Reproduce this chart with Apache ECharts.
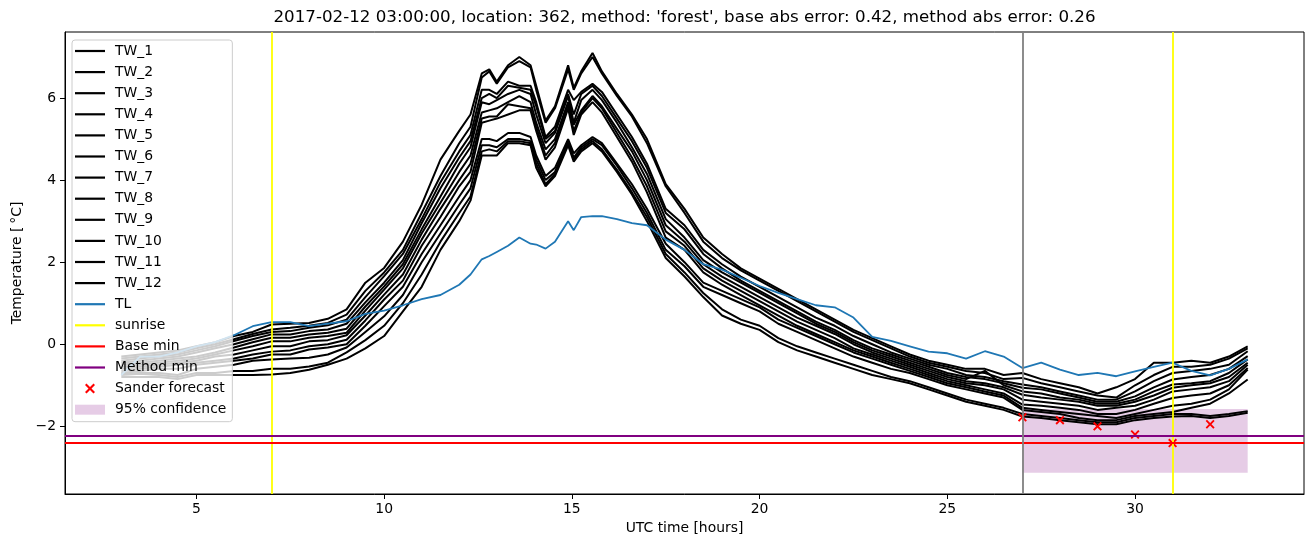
<!DOCTYPE html>
<html>
<head>
<meta charset="utf-8">
<script src="https://cdn.jsdelivr.net/npm/echarts@6/dist/echarts.min.js"></script>
<style>
html,body{margin:0;padding:0;background:#fff;}
#chart{width:1313px;height:547px;}
</style>
</head>
<body>
<div id="chart"></div>
<script>
// ---------------- data ----------------
const hours = [3,3.5,4,4.5,5,5.5,6,6.5,7,7.5,8,8.5,9,9.5,10,10.5,11,11.5,12,12.3,12.6,12.8,13.0,13.3,13.6,13.9,14.05,14.3,14.55,14.9,15.05,15.25,15.55,15.8,16.2,16.6,17.0,17.5,18,18.5,19,19.5,20,20.5,21,21.5,22,22.5,23,23.5,24,24.5,25,25.5,26,26.5,27,27.5,28,28.5,29,29.5,30,30.5,31,31.5,32,32.5,33];

const TW_1 = [-0.30,-0.25,-0.20,-0.15,-0.05,0.05,0.20,0.30,0.48,0.50,0.52,0.62,0.85, 1.50,1.86,2.50,3.40,4.50,5.20, 5.60,6.60,6.70,6.40,6.80,7.00,6.80,6.30,5.45,5.80,6.80,6.25,6.65,7.10,6.65,6.10,5.60,5.00, 3.90,3.30,2.60,2.20,1.85,1.60,1.35,1.10,0.85,0.60,0.35,0.15,-0.05,-0.25,-0.40,-0.50,-0.60,-0.60,-0.75,-0.70,-0.85,-0.95,-1.05,-1.20,-1.05,-0.85,-0.45,-0.45,-0.40,-0.45,-0.30,-0.05];
const TW_2 = [-0.35,-0.30,-0.25,-0.20,-0.10,0.00,0.12,0.25,0.36,0.40,0.45,0.52,0.72, 1.30,1.75,2.30,3.20,4.10,4.90, 5.30,6.50,6.65,6.35,6.75,6.90,6.75,6.20,5.40,5.75,6.70,6.20,6.60,7.00,6.60,6.05,5.55,4.90, 3.85,3.20,2.50,2.10,1.80,1.55,1.30,1.05,0.80,0.55,0.30,0.10,-0.10,-0.30,-0.45,-0.55,-0.65,-0.70,-0.85,-0.82,-0.95,-1.05,-1.15,-1.25,-1.30,-1.00,-0.75,-0.55,-0.55,-0.50,-0.35,-0.10];
const TW_3 = [-0.40,-0.35,-0.30,-0.25,-0.15,-0.05,0.08,0.20,0.30,0.32,0.40,0.46,0.60, 1.15,1.66,2.20,3.05,3.95,4.70, 5.10,6.20,6.20,6.10,6.40,6.30,6.30,5.90,5.05,5.30,6.20,5.95,6.15,6.35,6.15,5.60,5.05,4.40, 3.30,2.90,2.30,1.95,1.65,1.40,1.15,0.90,0.65,0.45,0.20,0.00,-0.20,-0.35,-0.50,-0.60,-0.75,-0.80,-0.90,-0.98,-1.05,-1.15,-1.25,-1.35,-1.35,-1.15,-0.90,-0.70,-0.65,-0.60,-0.50,-0.17];
const TW_4 = [-0.45,-0.40,-0.35,-0.30,-0.20,-0.10,0.00,0.12,0.24,0.24,0.32,0.36,0.50, 1.02,1.50,2.05,2.95,3.80,4.55, 4.95,6.00,6.10,6.00,6.30,6.25,6.20,5.80,5.00,5.20,6.10,5.60,6.10,6.30,6.05,5.50,4.95,4.30, 3.20,2.80,2.20,1.85,1.55,1.30,1.05,0.80,0.55,0.35,0.10,-0.10,-0.25,-0.40,-0.55,-0.70,-0.80,-0.85,-0.95,-1.06,-1.10,-1.20,-1.30,-1.40,-1.40,-1.27,-1.05,-0.86,-0.80,-0.75,-0.60,-0.29];
const TW_5 = [-0.50,-0.45,-0.40,-0.35,-0.30,-0.20,-0.08,0.05,0.16,0.16,0.24,0.28,0.38, 0.92,1.41,1.95,2.80,3.60,4.40, 4.80,5.90,5.85,5.95,6.10,6.20,6.10,5.60,4.90,5.15,6.05,5.40,5.95,6.20,5.95,5.40,4.80,4.15, 3.05,2.60,2.05,1.75,1.50,1.25,1.00,0.75,0.50,0.30,0.05,-0.15,-0.30,-0.45,-0.60,-0.75,-0.85,-0.65,-1.00,-1.15,-1.20,-1.30,-1.35,-1.45,-1.45,-1.35,-1.15,-0.98,-0.95,-0.90,-0.70,-0.37];
const TW_6 = [-0.55,-0.50,-0.45,-0.40,-0.35,-0.25,-0.15,-0.05,0.07,0.07,0.16,0.20,0.28, 0.82,1.33,1.85,2.70,3.45,4.20, 4.60,5.65,5.70,5.75,5.90,6.05,5.90,5.40,4.75,5.00,5.90,5.35,5.70,6.05,5.80,5.25,4.70,4.00, 2.90,2.50,1.95,1.65,1.40,1.15,0.90,0.65,0.45,0.25,0.00,-0.20,-0.35,-0.50,-0.65,-0.80,-0.90,-0.95,-1.05,-1.23,-1.30,-1.35,-1.40,-1.50,-1.50,-1.40,-1.25,-1.06,-1.00,-0.95,-0.80,-0.45];
const TW_7 = [-0.60,-0.55,-0.50,-0.45,-0.40,-0.30,-0.25,-0.15,-0.05,-0.05,0.07,0.10,0.22, 0.70,1.21,1.70,2.55,3.30,4.00, 4.40,5.50,5.55,5.55,5.85,5.80,5.75,5.30,4.60,4.90,5.85,5.20,5.65,6.00,5.75,5.15,4.55,3.85, 2.75,2.40,1.85,1.55,1.30,1.05,0.80,0.55,0.35,0.15,-0.10,-0.25,-0.40,-0.55,-0.70,-0.85,-0.95,-1.00,-1.10,-1.35,-1.40,-1.45,-1.50,-1.60,-1.55,-1.50,-1.35,-1.15,-1.10,-1.05,-0.90,-0.50];
const TW_8 = [-0.65,-0.60,-0.55,-0.50,-0.45,-0.40,-0.35,-0.25,-0.18,-0.15,-0.05,0.00,0.11, 0.58,1.09,1.55,2.40,3.10,3.85, 4.20,5.40,5.45,5.50,5.60,5.70,5.70,5.20,4.50,4.80,5.75,5.10,5.60,5.90,5.65,5.05,4.45,3.70, 2.60,2.30,1.75,1.45,1.20,0.95,0.70,0.45,0.25,0.05,-0.15,-0.30,-0.45,-0.60,-0.75,-0.90,-1.00,-1.10,-1.20,-1.47,-1.50,-1.55,-1.60,-1.70,-1.70,-1.60,-1.45,-1.31,-1.25,-1.20,-1.00,-0.58];
const TW_9 = [-0.70,-0.65,-0.60,-0.60,-0.50,-0.45,-0.40,-0.35,-0.25,-0.25,-0.13,-0.08,0.00, 0.45,0.93,1.40,2.20,2.90,3.60, 4.00,5.00,5.00,4.95,5.15,5.15,5.05,4.60,4.10,4.30,5.00,4.65,4.85,5.05,4.90,4.40,3.90,3.30, 2.45,2.00,1.50,1.30,1.10,0.90,0.60,0.40,0.20,0.00,-0.20,-0.35,-0.50,-0.65,-0.80,-0.95,-1.05,-1.15,-1.25,-1.55,-1.60,-1.65,-1.70,-1.75,-1.80,-1.70,-1.60,-1.50,-1.45,-1.35,-1.10,-0.62];
const TW_10 = [-0.72,-0.70,-0.70,-0.75,-0.60,-0.55,-0.50,-0.40,-0.37,-0.35,-0.33,-0.25,-0.08, 0.30,0.68,1.20,2.00,2.70,3.40, 3.80,4.85,4.85,4.80,5.00,5.00,4.95,4.50,4.00,4.20,4.95,4.55,4.80,5.00,4.85,4.35,3.80,3.20, 2.30,1.90,1.40,1.20,1.00,0.80,0.50,0.30,0.10,-0.10,-0.30,-0.45,-0.60,-0.70,-0.85,-1.00,-1.10,-1.20,-1.30,-1.60,-1.65,-1.70,-1.80,-1.85,-1.85,-1.75,-1.70,-1.65,-1.55,-1.45,-1.20,-0.86];
const TW_11 = [-0.75,-0.72,-0.75,-0.80,-0.70,-0.70,-0.65,-0.65,-0.60,-0.60,-0.54,-0.45,-0.20, 0.10,0.45,1.00,1.70,2.50,3.20, 3.60,4.70,4.75,4.70,4.95,4.95,4.90,4.40,3.90,4.15,4.90,4.50,4.75,4.95,4.75,4.25,3.70,3.10, 2.20,1.75,1.25,0.85,0.60,0.45,0.15,-0.05,-0.20,-0.35,-0.50,-0.65,-0.80,-0.90,-1.05,-1.20,-1.35,-1.45,-1.55,-1.70,-1.75,-1.80,-1.85,-1.90,-1.90,-1.80,-1.75,-1.70,-1.70,-1.75,-1.70,-1.63];
const TW_12 = [-0.80,-0.80,-0.80,-0.85,-0.75,-0.75,-0.75,-0.75,-0.74,-0.70,-0.62,-0.50,-0.35, -0.10,0.20,0.80,1.40,2.30,3.00, 3.50,4.60,4.60,4.60,4.90,4.90,4.85,4.30,3.85,4.10,4.85,4.45,4.70,4.90,4.70,4.20,3.65,3.00, 2.10,1.65,1.15,0.70,0.50,0.35,0.05,-0.15,-0.30,-0.45,-0.60,-0.75,-0.85,-0.95,-1.10,-1.25,-1.40,-1.50,-1.60,-1.76,-1.80,-1.85,-1.90,-1.95,-1.95,-1.85,-1.80,-1.76,-1.75,-1.80,-1.75,-1.67];
const TL = [-0.75,-0.30,-0.30,-0.20,-0.05,0.05,0.22,0.44,0.54,0.54,0.44,0.50,0.56, 0.74,0.82,0.95,1.10,1.20,1.45, 1.70,2.07,2.15,2.25,2.40,2.60,2.45,2.43,2.33,2.50,3.00,2.78,3.10,3.12,3.12,3.05,2.95,2.90, 2.55,2.30,1.95,1.82,1.62,1.42,1.25,1.10,0.95,0.90,0.65,0.18,0.08,-0.05,-0.18,-0.22,-0.35,-0.17,-0.30,-0.58,-0.45,-0.62,-0.75,-0.70,-0.78,-0.66,-0.55,-0.45,-0.65,-0.76,-0.60,-0.37];

const sunriseHours = [7, 31];
const forecastHour = 27;
const baseMin = -2.40;
const methodMin = -2.23;
const sanderHours = [27, 28, 29, 30, 31, 32];
const sanderValues = [-1.78, -1.85, -2.00, -2.20, -2.41, -1.95];
const confHours = [27, 33];
const confRange = [-3.13, -1.58];
const xTicks = [5, 10, 15, 20, 25, 30];
const yTicks = [-2, 0, 2, 4, 6];
const xRange = [1.5, 34.5];
const yRange = [-3.65, 7.61];

const TITLE = "2017-02-12 03:00:00, location: 362, method: 'forest', base abs error: 0.42, method abs error: 0.26";
// --------------------------------------

const twSeries = [TW_1,TW_2,TW_3,TW_4,TW_5,TW_6,TW_7,TW_8,TW_9,TW_10,TW_11,TW_12];
const FONT = 'DejaVu Sans';
const FS = 13.9;
const pairs = arr => hours.map((h, i) => [h, arr[i]]);
const minus = v => String(v).replace('-', '\u2212');

const series = [];
twSeries.forEach((arr, k) => {
  series.push({
    name: 'TW_' + (k + 1), type: 'line', data: pairs(arr),
    symbol: 'none', showSymbol: false, color: '#000',
    lineStyle: { color: '#000', width: 2 }, silent: true, z: 2
  });
});
series.push({
  name: 'TL', type: 'line', data: pairs(TL), symbol: 'none', showSymbol: false,
  color: '#1f77b4', lineStyle: { color: '#1f77b4', width: 1.8 }, silent: true, z: 2
});
const mlBase = { silent: true, symbol: ['none', 'none'], label: { show: false }, emphasis: { disabled: true }, animation: false };
series.push({
  name: 'sunrise', type: 'line', data: [], color: '#ffff00', symbol: 'none',
  markLine: Object.assign({}, mlBase, { lineStyle: { color: '#ffff00', width: 1.8, type: 'solid' }, data: sunriseHours.map(h => ({ xAxis: h })) })
});
series.push({
  name: 'Base min', type: 'line', data: [], color: '#ff0000', symbol: 'none',
  markLine: Object.assign({}, mlBase, { lineStyle: { color: '#ff0000', width: 1.8, type: 'solid' }, data: [{ yAxis: baseMin }] })
});
series.push({
  name: 'Method min', type: 'line', data: [], color: '#800080', symbol: 'none',
  markLine: Object.assign({}, mlBase, { lineStyle: { color: '#800080', width: 1.8, type: 'solid' }, data: [{ yAxis: methodMin }] })
});
const XPATH = 'path://M0,1.5L1.5,0L5,3.5L8.5,0L10,1.5L6.5,5L10,8.5L8.5,10L5,6.5L1.5,10L0,8.5L3.5,5Z';
series.push({
  name: 'Sander forecast', type: 'scatter', data: sanderHours.map((h, i) => [h, sanderValues[i]]),
  symbol: XPATH, symbolSize: 9, symbolKeepAspect: true, color: '#ff0000',
  itemStyle: { color: '#ff0000', opacity: 1 }, silent: true, z: 4
});
series.push({
  name: '95% confidence', type: 'line', data: [], color: 'rgba(128,0,128,0.2)', symbol: 'none',
  markArea: {
    silent: true, animation: false,
    itemStyle: { color: 'rgba(128,0,128,0.2)' },
    data: [[{ xAxis: confHours[0], yAxis: confRange[1] }, { xAxis: confHours[1], yAxis: confRange[0] }]]
  }, z: 3
});
series.push({
  name: 'forecast time', type: 'line', data: [], color: '#808080', symbol: 'none',
  markLine: Object.assign({}, mlBase, { lineStyle: { color: '#808080', width: 1.8, type: 'solid' }, data: [{ xAxis: forecastHour }] }),
  z: 3
});

const LINE_ICON = 'path://M0,0L30,0L30,2.2L0,2.2Z';
const legendNames = twSeries.map((a, k) => 'TW_' + (k + 1)).concat(['TL', 'sunrise', 'Base min', 'Method min']);
const legendData = legendNames.map(n => ({ name: n, icon: LINE_ICON }));
legendData.push({ name: 'Sander forecast', icon: XPATH, itemStyle: { color: '#ff0000' } });
legendData.push({ name: '95% confidence', icon: 'rect', itemStyle: { color: 'rgba(128,0,128,0.2)' } });

const chart = echarts.init(document.getElementById('chart'), null, { renderer: 'canvas' });
chart.setOption({
  animation: false,
  textStyle: { fontFamily: FONT },
  grid: { left: 65, right: 9, top: 32, bottom: 53, containLabel: false, outerBoundsMode: 'none',
          show: true, borderColor: '#000', borderWidth: 1, backgroundColor: 'transparent' },
  graphic: [{
    type: 'text', x: 684.5, y: 18, silent: true,
    style: { text: TITLE, font: '16.7px "DejaVu Sans"', fill: '#000',
             align: 'center', verticalAlign: 'middle', textAlign: 'center', textVerticalAlign: 'middle' }
  }],
  legend: {
    orient: 'vertical', left: 72, top: 40, data: legendData,
    itemWidth: 30, itemHeight: 10, itemGap: 7.1,
    padding: [4, 6, 5, 3],
    backgroundColor: 'rgba(255,255,255,0.8)', borderColor: '#cccccc', borderWidth: 1, borderRadius: 3,
    textStyle: { fontFamily: FONT, fontSize: FS, color: '#000', lineHeight: 14, padding: [0, 0, 0, 5] },
    selectedMode: false, symbolKeepAspect: true
  },
  xAxis: {
    type: 'value', min: xRange[0], max: xRange[1],
    name: 'UTC time [hours]', nameLocation: 'middle', nameGap: 27,
    nameTextStyle: { fontFamily: FONT, fontSize: FS, color: '#000' },
    axisLine: { show: true, onZero: false, lineStyle: { color: '#000', width: 1 } },
    axisTick: { show: true, inside: false, length: 5, lineStyle: { color: '#000', width: 1 }, customValues: xTicks },
    axisLabel: { show: true, margin: 8, fontFamily: FONT, fontSize: FS, color: '#000', customValues: xTicks, formatter: v => minus(v) },
    splitLine: { show: false }
  },
  yAxis: {
    type: 'value', min: yRange[0], max: yRange[1],
    name: 'Temperature [\u2009\u00b0C]', nameLocation: 'middle', nameGap: 39,
    nameTextStyle: { fontFamily: FONT, fontSize: FS, color: '#000' },
    axisLine: { show: true, onZero: false, lineStyle: { color: '#000', width: 1 } },
    axisTick: { show: true, inside: false, length: 5, lineStyle: { color: '#000', width: 1 }, customValues: yTicks },
    axisLabel: { show: true, margin: 9, fontFamily: FONT, fontSize: FS, color: '#000', customValues: yTicks, formatter: v => minus(v) },
    splitLine: { show: false }
  },
  series: series
});
</script>
</body>
</html>
